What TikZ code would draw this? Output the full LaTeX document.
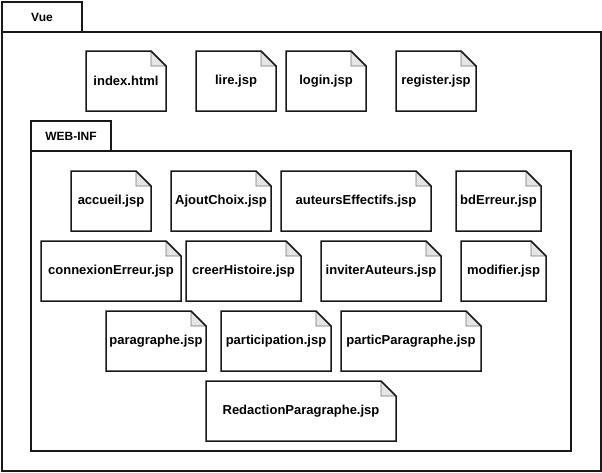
\documentclass[tikz,border=0pt]{standalone}
\usepackage{fontspec}
\setmainfont{Liberation Sans}
\usepackage{tikz}

\tikzset{
  outline/.style={draw=black!90, line width=1.5pt, line join=miter},
  tabbox/.style={outline, anchor=north west, inner sep=0pt, outer sep=0pt,
    font=\bfseries\fontsize{12}{14}\selectfont},
  pkgbody/.style={outline, anchor=north west, inner sep=0pt, outer sep=0pt},
  notebox/.style={anchor=north west, inner sep=0pt, outer sep=0pt,
    font=\bfseries\fontsize{13}{15}\selectfont},
  foldpart/.style={fill=black!10, draw=black!55, line width=0.6pt}
}

%% note with folded corner: name, x, y, width, height, label
\newcommand{\jspnote}[6]{%
  \node[notebox, minimum width=#4pt, minimum height=#5pt] (#1) at (#2,#3) {#6};
  \path[foldpart] ([xshift=-15pt]#1.north east) -- ([xshift=-15pt,yshift=-15pt]#1.north east)
    -- ([yshift=-15pt]#1.north east) -- cycle;
  \draw[outline] (#1.north west) -- ([xshift=-15pt]#1.north east) -- ([yshift=-15pt]#1.north east)
    -- (#1.south east) -- (#1.south west) -- cycle;
}

\begin{document}
\begin{tikzpicture}[x=1pt, y=-1pt]
\useasboundingbox (0,0) rectangle (602,472);

%% package Vue
\node[tabbox, minimum width=80pt, minimum height=30pt] (vuetab) at (2,2) {Vue};
\node[pkgbody, minimum width=599pt, minimum height=439pt] (vuebody) at (vuetab.south west) {};

%% files of Vue
\jspnote{index}{86}{51}{80}{60}{index.html}
\jspnote{lire}{196}{51}{80}{60}{lire.jsp}
\jspnote{login}{286}{51}{80}{60}{login.jsp}
\jspnote{register}{396}{51}{80}{60}{register.jsp}

%% package WEB-INF
\node[tabbox, minimum width=80pt, minimum height=30pt] (webinftab) at (31,121) {WEB-INF};
\node[pkgbody, minimum width=540pt, minimum height=300pt] (webinfbody) at (webinftab.south west) {};

%% files of WEB-INF
\jspnote{accueil}{71}{171}{80}{60}{accueil.jsp}
\jspnote{ajoutchoix}{171}{171}{100}{60}{AjoutChoix.jsp}
\jspnote{auteurseff}{281}{171}{150}{60}{auteursEffectifs.jsp}
\jspnote{bderreur}{456}{171}{85}{60}{bdErreur.jsp}

\jspnote{connerreur}{41}{241}{140}{60}{connexionErreur.jsp}
\jspnote{creerhist}{186}{241}{115}{60}{creerHistoire.jsp}
\jspnote{inviter}{321}{241}{120}{60}{inviterAuteurs.jsp}
\jspnote{modifier}{461}{241}{85}{60}{modifier.jsp}

\jspnote{paragraphe}{106}{311}{100}{60}{paragraphe.jsp}
\jspnote{participation}{221}{311}{110}{60}{participation.jsp}
\jspnote{particpar}{341}{311}{140}{60}{particParagraphe.jsp}

\jspnote{redaction}{206}{381}{190}{60}{RedactionParagraphe.jsp}
\end{tikzpicture}
\end{document}
